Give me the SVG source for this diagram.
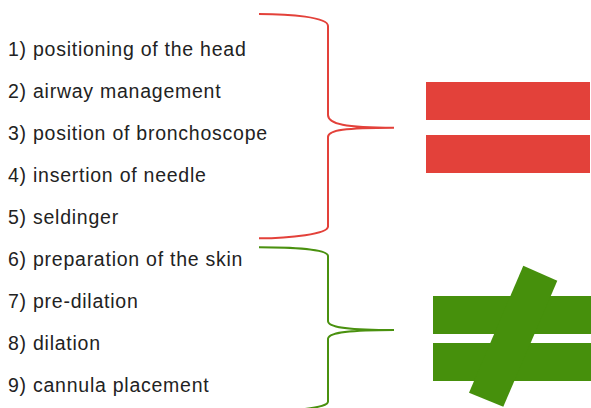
<svg xmlns="http://www.w3.org/2000/svg" width="591" height="408" viewBox="0 0 591 408">
<style>
text{font-family:"Liberation Sans",Arial,Helvetica,sans-serif;font-size:19.5px;letter-spacing:0.75px;fill:#222}
.brace{fill:none;stroke-width:2}
</style>
<rect width="591" height="408" fill="#fff"/>
<g id="labels">
<text x="8" y="56">1) positioning of the head</text>
<text x="8" y="98">2) airway management</text>
<text x="8" y="140">3) position of bronchoscope</text>
<text x="8" y="182">4) insertion of needle</text>
<text x="8" y="224">5) seldinger</text>
<text x="8" y="266">6) preparation of the skin</text>
<text x="8" y="308">7) pre-dilation</text>
<text x="8" y="350">8) dilation</text>
<text x="8" y="392">9) cannula placement</text>
</g>
<g id="connectors">
<path class="brace" stroke="#e3413a" d="M259,14 C290,14 328,17 328,26 L328,115 C328,124 345,127.7 394,127.7 C345,127.7 328,130 328,137 L328,226.5 C328,234 290,238.3 259,238.3"/>
<path class="brace" stroke="#4a910f" d="M259,247.3 C290,247.3 328,249 328,256 L328,321 C328,327 345,330 394,330 C345,330 328,333 328,339 L328,401.5 C328,405 320,407 305,409"/>
</g>
<g id="equal">
<rect x="426" y="82" width="164" height="38" fill="#e3413a"/>
<rect x="426" y="135" width="164" height="38" fill="#e3413a"/>
</g>
<g id="notequal" fill="#46900c">
<rect x="433" y="296" width="158" height="38"/>
<rect x="433" y="343" width="158" height="38"/>
<polygon points="523.3,265.7 557.3,280.7 503.3,406.7 469,392.7"/>
</g>
</svg>
